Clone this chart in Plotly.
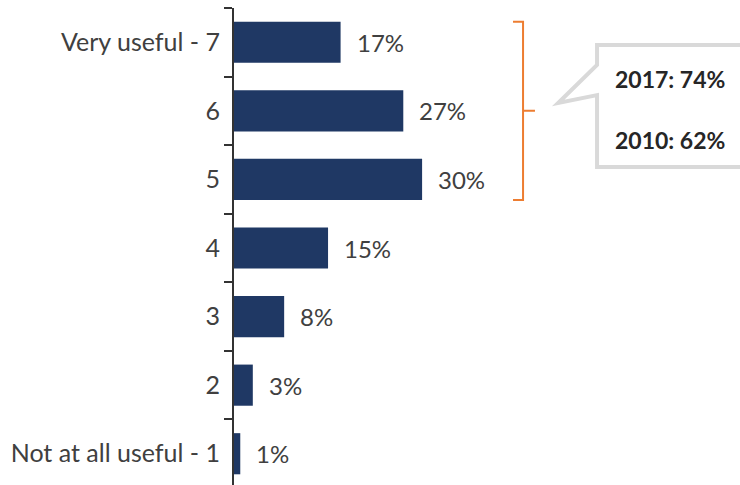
import plotly.graph_objects as go

# Usefulness ratings, listed from the top row down
ratings = ["Very useful - 7", "6", "5", "4", "3", "2", "Not at all useful - 1"]
shares = [17, 27, 30, 15, 8, 3, 1]

# Combined top-three-box scores shown in the callout
callout_years = ["2017", "2010"]
callout_values = [74, 62]

BAR = "#1F3864"
TEXT = "#404040"
ORANGE = "#ED7D31"
BOX = "#D9D9D9"
FONT = "Lato"

fig = go.Figure(
    go.Bar(
        x=shares,
        y=ratings,
        orientation="h",
        marker=dict(color=BAR, line=dict(width=0)),
        hoverinfo="skip",
    )
)

# Value labels to the right of each bar (y given as category index)
for i, v in enumerate(shares):
    fig.add_annotation(
        x=v, y=i, text=f"{v}%", showarrow=False,
        xanchor="left", yanchor="middle", xshift=14,
        font=dict(family=FONT, size=24, color=TEXT),
    )

# Orange bracket grouping the top three ratings (7, 6, 5)
bx, top, bot = 46.1, -0.3, 2.3
fig.add_shape(
    type="path",
    path=f"M {bx-1.6},{top} L {bx},{top} L {bx},{bot} L {bx-1.6},{bot} "
         f"M {bx},1 L {bx+1.9},1",
    xref="x", yref="y",
    line=dict(color=ORANGE, width=2),
)

# Speech-bubble callout (runs off the right edge)
x0, y0, y1 = 57.9, 0.04, 1.82
fig.add_shape(
    type="path",
    path=f"M {x0},{y0} L 90,{y0} L 90,{y1} L {x0},{y1} L {x0},0.77 "
         f"L 51.7,0.885 L {x0},0.33 Z",
    xref="x", yref="y",
    line=dict(color=BOX, width=4),
    fillcolor="white",
    layer="above",
)
for yr, val, yy in zip(callout_years, callout_values, [0.54, 1.43]):
    fig.add_annotation(
        x=60.4, y=yy, text=f"<b>{yr}: {val}%</b>", showarrow=False,
        xanchor="left", yanchor="middle",
        font=dict(family=FONT, size=23, color="#262626"),
    )

fig.update_layout(
    width=740, height=485,
    margin=dict(l=234, r=0, t=8, b=0),
    plot_bgcolor="white", paper_bgcolor="white",
    bargap=0.4,
    showlegend=False,
    xaxis=dict(
        range=[0, 80.7], visible=False, showgrid=False, zeroline=False,
    ),
    yaxis=dict(
        type="category",
        categoryorder="array", categoryarray=ratings,
        range=[6.456, -0.5],
        showline=True, linecolor="#333333", linewidth=2,
        ticks="outside", tickson="boundaries", ticklen=8,
        tickcolor="#333333", tickwidth=2,
        ticklabelstandoff=7,
        tickfont=dict(family=FONT, size=25, color=TEXT),
        showgrid=False, zeroline=False,
    ),
)

fig.write_html("out.html")
